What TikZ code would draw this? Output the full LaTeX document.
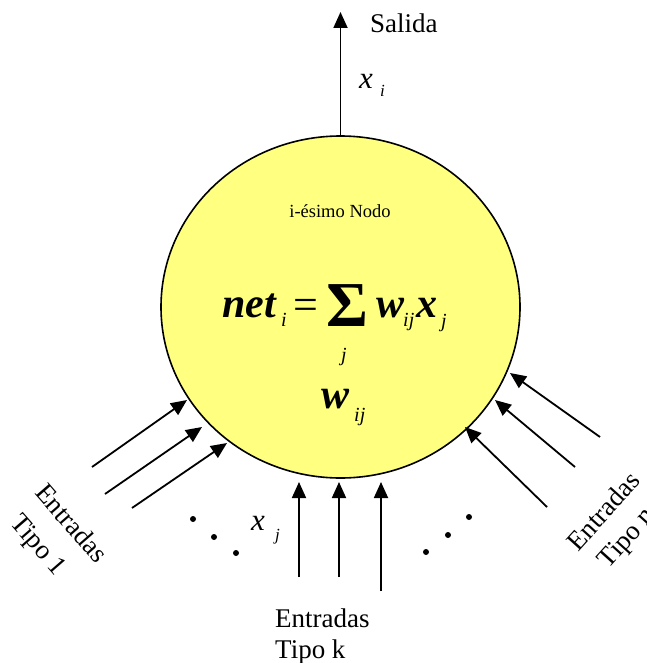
\documentclass[tikz,border=0pt]{standalone}
\usepackage{fontspec}
\setmainfont{Liberation Serif}
\usetikzlibrary{arrows.meta,shapes.geometric}
\definecolor{nodoyellow}{RGB}{255,255,128}
\begin{document}
\begin{tikzpicture}[x=1pt,y=-1pt,
  inarrow/.style={line width=1.8pt,-{Triangle[length=16pt,width=14pt]}},
  lbl/.style={inner sep=0pt,font=\fontsize{27}{32}\selectfont},
  fbi/.style={inner sep=0pt,font=\fontsize{42}{46}\selectfont\bfseries\itshape},
  sub/.style={inner sep=0pt,font=\fontsize{20}{24}\selectfont\itshape},
  var/.style={inner sep=0pt,font=\fontsize{31}{34}\selectfont\itshape},
  smallsub/.style={inner sep=0pt,font=\fontsize{17}{19}\selectfont\itshape},
  dot/.style={circle,fill=black,inner sep=0pt,minimum size=6pt}]
\useasboundingbox (0,0) rectangle (646,663);
% main node
\node[ellipse,draw,line width=1.6pt,fill=nodoyellow,minimum width=359pt,minimum height=342pt,inner sep=0pt] (nodo) at (340.5,307) {};
% output
\coordinate (outtop) at (340.5,12);
\draw[inarrow] (nodo.north) -- (outtop);
\node[lbl,anchor=base west] (salida) at (370,33) {Salida};
\node[var,anchor=base west] (xi) at (359,89) {x};
\node[smallsub,anchor=base west] (xisub) at (380,97) {i};
% inside texts
\node[inner sep=0pt,font=\fontsize{18.5}{21}\selectfont] (titulo) at (340,211) {i-ésimo Nodo};
\node[fbi,anchor=base west] (net) at (222,317) {net};
\node[sub,anchor=base west] (neti) at (281,326) {i};
\node[inner sep=0pt,font=\fontsize{44}{48}\selectfont] (igual) at (306,309) {=};
\node[inner sep=0pt,font=\fontsize{64}{70}\selectfont\bfseries] (suma) at (347,306) {Σ};
\node[sub] (sumj) at (344,357) {j};
\node[fbi,anchor=base west] (w) at (376,317) {w};
\node[sub,anchor=base west] (wij) at (403,326) {ij};
\node[fbi,anchor=base west] (x) at (416,317) {x};
\node[sub,anchor=base west] (xj) at (441,327) {j};
\node[fbi,anchor=base west] (w2) at (321,408) {w};
\node[sub,anchor=base west] (w2ij) at (354,421) {ij};
% left inputs
\coordinate (l1s) at (92,467);  \coordinate (l1e) at (187,400);
\coordinate (l2s) at (105,494); \coordinate (l2e) at (202,427);
\coordinate (l3s) at (132,508); \coordinate (l3e) at (227,443);
\draw[inarrow] (l1s) -- (l1e);
\draw[inarrow] (l2s) -- (l2e);
\draw[inarrow] (l3s) -- (l3e);
% right inputs
\coordinate (r1s) at (600,437); \coordinate (r1e) at (510,373);
\coordinate (r2s) at (575,467); \coordinate (r2e) at (495,400);
\coordinate (r3s) at (547,507); \coordinate (r3e) at (465,427);
\draw[inarrow] (r1s) -- (r1e);
\draw[inarrow] (r2s) -- (r2e);
\draw[inarrow] (r3s) -- (r3e);
% bottom inputs
\coordinate (b1s) at (299,577); \coordinate (b1e) at (299,482);
\coordinate (b2s) at (339,577); \coordinate (b2e) at (339,482);
\coordinate (b3s) at (381,591); \coordinate (b3e) at (381,482);
\draw[inarrow] (b1s) -- (b1e);
\draw[inarrow] (b2s) -- (b2e);
\draw[inarrow] (b3s) -- (b3e);
% dots
\node[dot] (dl1) at (193,519) {};
\node[dot] (dl2) at (214,537) {};
\node[dot] (dl3) at (236,553) {};
\node[dot] (dr1) at (426,552) {};
\node[dot] (dr2) at (448,535) {};
\node[dot] (dr3) at (469,517) {};
\node[var,anchor=base west] (xjb) at (251,530) {x};
\node[smallsub,anchor=base west] (xjbsub) at (275,540) {j};
% labels
\node[lbl,rotate=-49] (entl) at (72,523) {Entradas};
\node[lbl,rotate=-49] (tipol) at (37,546) {Tipo 1};
\node[lbl,rotate=48] (entr) at (603,511) {Entradas};
\node[lbl,rotate=48] (tipor) at (628,539) {Tipo n};
\node[lbl,anchor=base west] (entb) at (275,627) {Entradas};
\node[lbl,anchor=base west] (tipob) at (275,658) {Tipo k};
\end{tikzpicture}
\end{document}
